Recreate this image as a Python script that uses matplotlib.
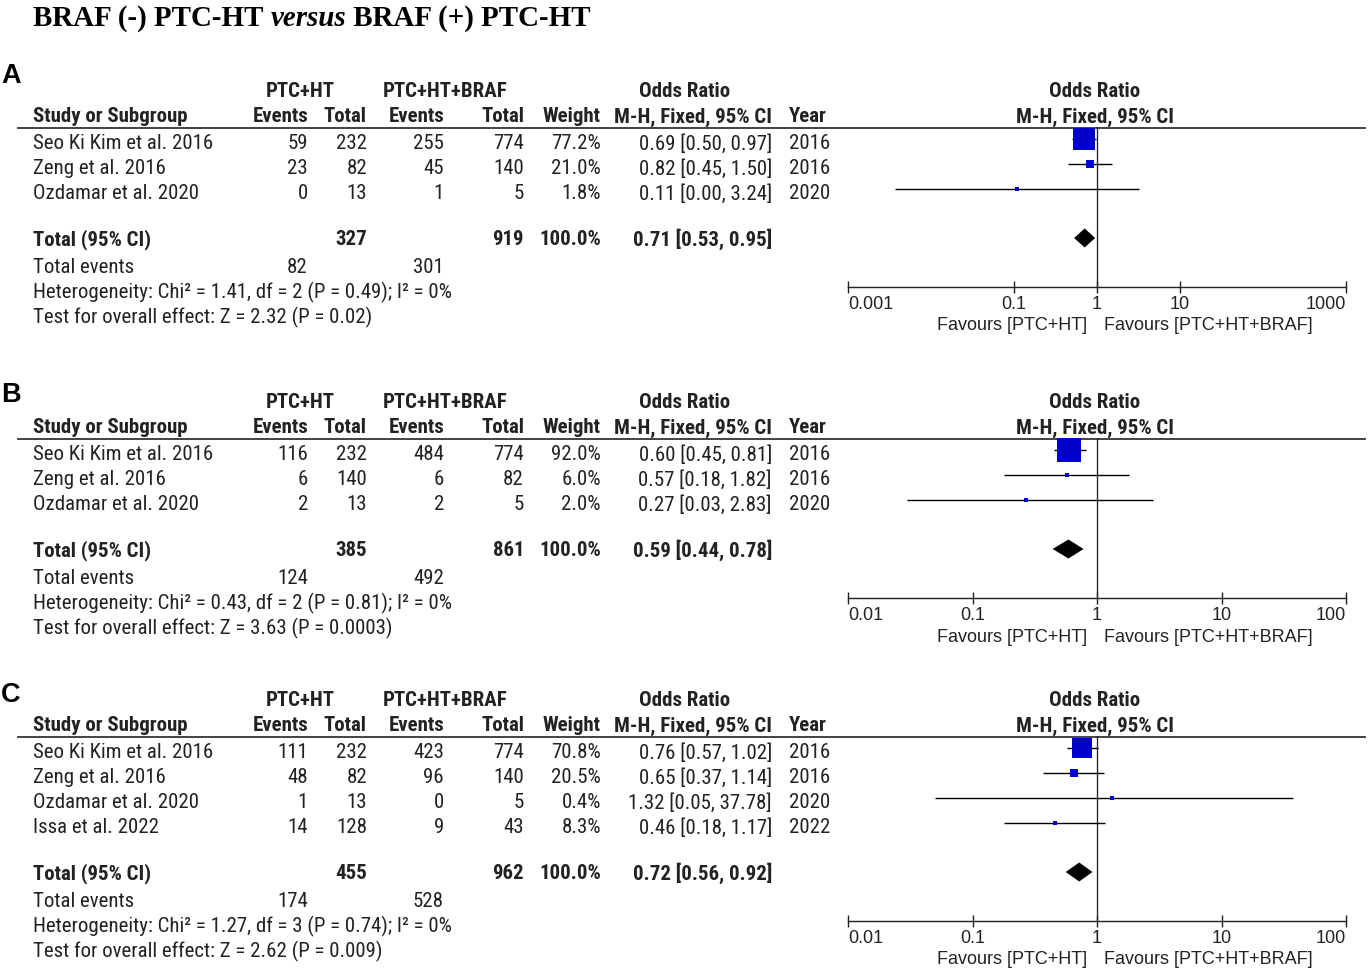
import matplotlib
matplotlib.use("Agg")
import matplotlib.pyplot as plt
import matplotlib.font_manager as fm

# ---------------- DATA ----------------
title_parts = ["BRAF (-) PTC-HT ", "versus", " BRAF (+) PTC-HT"]
group1 = "PTC+HT"
group2 = "PTC+HT+BRAF"
favours_left = "Favours [PTC+HT]"
favours_right = "Favours [PTC+HT+BRAF]"

# Panel A
A_studies = ["Seo Ki Kim et al. 2016", "Zeng et al. 2016", "Ozdamar et al. 2020"]
A_ev1 = [59, 23, 0]
A_tot1 = [232, 82, 13]
A_ev2 = [255, 45, 1]
A_tot2 = [774, 140, 5]
A_weight = [77.2, 21.0, 1.8]
A_or = [0.69, 0.82, 0.11]
A_lo = [0.50, 0.45, 0.0037]
A_hi = [0.97, 1.50, 3.24]
A_year = [2016, 2016, 2020]
A_total = (327, 919, 100.0, 0.71, 0.53, 0.95)
A_events = (82, 301)
A_het = "Heterogeneity: Chi\u00b2 = 1.41, df = 2 (P = 0.49); I\u00b2 = 0%"
A_test = "Test for overall effect: Z = 2.32 (P = 0.02)"
A_ticks = [0.001, 0.1, 1, 10, 1000]
A_ticklabels = ["0.001", "0.1", "1", "10", "1000"]

# Panel B
B_studies = ["Seo Ki Kim et al. 2016", "Zeng et al. 2016", "Ozdamar et al. 2020"]
B_ev1 = [116, 6, 2]
B_tot1 = [232, 140, 13]
B_ev2 = [484, 6, 2]
B_tot2 = [774, 82, 5]
B_weight = [92.0, 6.0, 2.0]
B_or = [0.60, 0.57, 0.27]
B_lo = [0.45, 0.18, 0.03]
B_hi = [0.81, 1.82, 2.83]
B_year = [2016, 2016, 2020]
B_total = (385, 861, 100.0, 0.59, 0.44, 0.78)
B_events = (124, 492)
B_het = "Heterogeneity: Chi\u00b2 = 0.43, df = 2 (P = 0.81); I\u00b2 = 0%"
B_test = "Test for overall effect: Z = 3.63 (P = 0.0003)"
B_ticks = [0.01, 0.1, 1, 10, 100]
B_ticklabels = ["0.01", "0.1", "1", "10", "100"]

# Panel C
C_studies = ["Seo Ki Kim et al. 2016", "Zeng et al. 2016", "Ozdamar et al. 2020", "Issa et al. 2022"]
C_ev1 = [111, 48, 1, 14]
C_tot1 = [232, 82, 13, 128]
C_ev2 = [423, 96, 0, 9]
C_tot2 = [774, 140, 5, 43]
C_weight = [70.8, 20.5, 0.4, 8.3]
C_or = [0.76, 0.65, 1.32, 0.46]
C_lo = [0.57, 0.37, 0.05, 0.18]
C_hi = [1.02, 1.14, 37.78, 1.17]
C_year = [2016, 2016, 2020, 2022]
C_total = (455, 962, 100.0, 0.72, 0.56, 0.92)
C_events = (174, 528)
C_het = "Heterogeneity: Chi\u00b2 = 1.27, df = 3 (P = 0.74); I\u00b2 = 0%"
C_test = "Test for overall effect: Z = 2.62 (P = 0.009)"
C_ticks = [0.01, 0.1, 1, 10, 100]
C_ticklabels = ["0.01", "0.1", "1", "10", "100"]

# ---------------- STYLE ----------------
names = {f.name for f in fm.fontManager.ttflist}
NARROW = "Roboto Condensed"
if NARROW not in names:
    NARROW = "PT Sans Narrow" if "PT Sans Narrow" in names else "Liberation Sans"
SANS = "Liberation Sans"
SERIF = "Liberation Serif"
TXT = "#222222"
BLUE = "#0000c8"

W, H = 1371, 977
DPI = 100
fig = plt.figure(figsize=(W / DPI, H / DPI), dpi=DPI)
fig.patch.set_facecolor("white")
ax0 = fig.add_axes([0, 0, 1, 1])
ax0.set_xlim(0, W)
ax0.set_ylim(H, 0)
ax0.axis("off")

PX = 72.0 / DPI  # points per pixel
FS = 15.0
CAP = 7.4  # half cap height in px for baseline placement


def t(x, y, s, ha="left", bold=False, fs=FS):
    ax0.text(x, y + CAP, s, ha=ha, va="baseline", fontsize=fs,
             fontweight="bold" if bold else "normal",
             family=NARROW, fontstretch="condensed", color=TXT)


# Title
x = 33
for i, part in enumerate(title_parts):
    txt = ax0.text(x, 26, part, ha="left", va="baseline", fontsize=20.9,
                   family=SERIF, fontweight="bold",
                   fontstyle="italic" if i == 1 else "normal", color="black")
    fig.canvas.draw()
    bb = txt.get_window_extent()
    x += bb.width

# column positions
X_STUDY = 33
X_EV1 = 308
X_TOT1 = 367
X_EV2 = 444
X_TOT2 = 524
X_WT = 601
X_CI = 772
X_YEAR = 789
FX0, FX1 = 848, 1346


def panel(letter, letter_y, off, studies, ev1, tot1, ev2, tot2, weight, orr, lo, hi, year,
          total, events, het, test, ticks, ticklabels):
    n = len(studies)
    ax0.text(1, letter_y + 9.5, letter, ha="left", va="baseline", fontsize=19.5,
             family=SANS, fontweight="bold", color="black")
    gy = off + 90
    cy = off + 115
    hl = off + 127
    t(300, gy, group1, ha="center", bold=True)
    t(445, gy, group2, ha="center", bold=True)
    t(685, gy, "Odds Ratio", ha="center", bold=True)
    t(1095, gy, "Odds Ratio", ha="center", bold=True)
    t(X_STUDY, cy, "Study or Subgroup", bold=True)
    t(X_EV1, cy, "Events", ha="right", bold=True)
    t(X_TOT1, cy, "Total", ha="right", bold=True)
    t(X_EV2, cy, "Events", ha="right", bold=True)
    t(X_TOT2, cy, "Total", ha="right", bold=True)
    t(X_WT, cy, "Weight", ha="right", bold=True)
    t(X_CI, cy, "M-H, Fixed, 95% CI", ha="right", bold=True)
    t(X_YEAR, cy, "Year", bold=True)
    t(1095, cy, "M-H, Fixed, 95% CI", ha="center", bold=True)
    ax0.plot([18, 1365], [hl + 0.5, hl + 0.5], color="#333333", lw=1.8 * PX)

    rows = [off + 142 + 25 * i for i in range(n)]
    for i in range(n):
        y = rows[i]
        t(X_STUDY, y, studies[i])
        t(X_EV1, y, str(ev1[i]), ha="right")
        t(X_TOT1, y, str(tot1[i]), ha="right")
        t(X_EV2, y, str(ev2[i]), ha="right")
        t(X_TOT2, y, str(tot2[i]), ha="right")
        t(X_WT, y, f"{weight[i]:.1f}%", ha="right")
        t(X_CI, y, f"{orr[i]:.2f} [{lo[i]:.2f}, {hi[i]:.2f}]", ha="right")
        t(X_YEAR, y, str(year[i]))
    ty = off + 142 + 25 * n + 21
    t(X_STUDY, ty, "Total (95% CI)", bold=True)
    t(X_TOT1, ty, str(total[0]), ha="right", bold=True)
    t(X_TOT2, ty, str(total[1]), ha="right", bold=True)
    t(X_WT, ty, f"{total[2]:.1f}%", ha="right", bold=True)
    t(X_CI, ty, f"{total[3]:.2f} [{total[4]:.2f}, {total[5]:.2f}]", ha="right", bold=True)
    t(X_STUDY, ty + 28, "Total events")
    t(X_EV1, ty + 28, str(events[0]), ha="right")
    t(X_EV2, ty + 28, str(events[1]), ha="right")
    t(X_STUDY, ty + 53, het)
    t(X_STUDY, ty + 78, test)

    # forest axes
    axis_y = ty + 49
    fax = fig.add_axes([FX0 / W, 1 - axis_y / H, (FX1 - FX0) / W, (axis_y - hl) / H])
    fax.set_xscale("log")
    fax.set_xlim(ticks[0], ticks[-1])
    fax.set_ylim(axis_y, hl)
    fax.patch.set_alpha(0)
    for s in ["top", "left", "right"]:
        fax.spines[s].set_visible(False)
    fax.spines["bottom"].set_linewidth(1.4 * PX)
    fax.spines["bottom"].set_color("#222222")
    fax.set_yticks([])
    fax.set_xticks(ticks)
    fax.xaxis.set_minor_locator(matplotlib.ticker.NullLocator())
    fax.set_xticklabels(ticklabels)
    fax.tick_params(axis="x", direction="inout", length=12 * PX, width=1.4 * PX,
                    color="#222222", pad=2.0, labelsize=13, labelcolor=TXT)
    for lab in fax.get_xticklabels():
        lab.set_family(SANS)
    labs = fax.get_xticklabels()
    labs[0].set_ha("left")
    labs[-1].set_ha("right")
    fax.axvline(1, color="#222222", lw=1.3 * PX, zorder=1)
    for i in range(n):
        y = rows[i] - 3
        fax.plot([lo[i], hi[i]], [y, y], color="black", lw=1.4 * PX, zorder=2,
                 solid_capstyle="butt")
        side = max(3.2, 0.84 * weight[i] ** 0.75)
        fax.plot([orr[i]], [y], marker="s", ms=side * PX, color=BLUE, mec=BLUE, mew=0,
                 zorder=3, clip_on=False)
    est, dlo, dhi = total[3], total[4], total[5]
    hh = 9.5
    fax.fill([dlo, est, dhi, est], [ty, ty - hh, ty, ty + hh], color="black", lw=0, zorder=3)

    ax0.text(1087, axis_y + 37 + 6.5, favours_left, ha="right", va="baseline", fontsize=13,
             family=SANS, color=TXT)
    ax0.text(1104, axis_y + 37 + 6.5, favours_right, ha="left", va="baseline", fontsize=13,
             family=SANS, color=TXT)


panel("A", 73.5, 0, A_studies, A_ev1, A_tot1, A_ev2, A_tot2, A_weight, A_or, A_lo, A_hi, A_year,
      A_total, A_events, A_het, A_test, A_ticks, A_ticklabels)
panel("B", 393, 311, B_studies, B_ev1, B_tot1, B_ev2, B_tot2, B_weight, B_or, B_lo, B_hi, B_year,
      B_total, B_events, B_het, B_test, B_ticks, B_ticklabels)
panel("C", 692, 609, C_studies, C_ev1, C_tot1, C_ev2, C_tot2, C_weight, C_or, C_lo, C_hi, C_year,
      C_total, C_events, C_het, C_test, C_ticks, C_ticklabels)

fig.savefig("out.png", dpi=DPI, facecolor="white")
